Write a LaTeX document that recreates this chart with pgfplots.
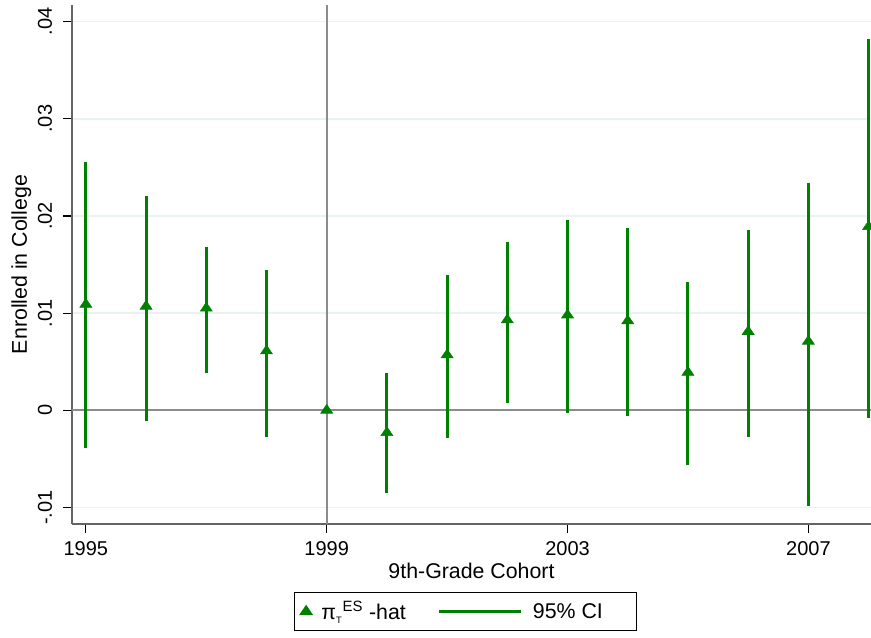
\documentclass[border=0pt]{standalone}
\usepackage{fontspec}
\setmainfont{Liberation Sans}
\usepackage{pgfplots}
\pgfplotsset{compat=1.18}
\definecolor{sgreen}{RGB}{0,128,0}
\definecolor{gridc}{RGB}{234,242,243}
\definecolor{refgray}{RGB}{140,140,140}
\definecolor{spine}{RGB}{100,100,100}
\pgfplotsset{longline/.style={legend image code/.code={\draw[##1] (0pt,0pt) -- (61pt,0pt);}}}
\begin{document}
\begin{tikzpicture}
\begin{axis}[
  scale only axis,
  width=599.25pt, height=389.25pt,
  xmin=1994.77, xmax=2008.04,
  ymin=-0.0117, ymax=0.0417,
  axis x line*=bottom, axis y line*=left,
  axis line style={spine, line width=1.3pt},
  xtick={1995,1999,2003,2007},
  xticklabels={1995,1999,2003,2007},
  ytick={-0.01,0,0.01,0.02,0.03,0.04},
  yticklabels={-.01,0,.01,.02,.03,.04},
  scaled y ticks=false, scaled x ticks=false,
  /pgf/number format/assume math mode=true,
  tick align=outside,
  major tick length=6.5pt,
  tick style={black, line width=0.9pt},
  ymajorgrids,
  grid style={gridc, line width=1.2pt},
  tick label style={font=\fontsize{15}{17}\selectfont},
  xticklabel style={yshift=-3pt},
  yticklabel style={xshift=-5pt, rotate=90, anchor=south},
  label style={font=\fontsize{16}{18}\selectfont},
  xlabel={9th-Grade Cohort},
  ylabel={Enrolled in College},
  xlabel style={yshift=1.3pt},
  ylabel style={yshift=-2pt},
  legend style={at={(axis description cs:0.4925,-0.131)}, anchor=north,
    legend columns=2, draw=black, line width=0.8pt,
    font=\fontsize{16}{18}\selectfont,
    /tikz/every even column/.append style={column sep=22pt},
    inner xsep=4pt, inner ysep=4.5pt},
  legend cell align=left,
]
% reference lines
\addplot[refgray, line width=1.4pt, forget plot] coordinates {(1999,-0.0117) (1999,0.0417)};
\addplot[refgray, line width=1.4pt, forget plot] coordinates {(1994.77,0) (2008.04,0)};
% confidence intervals
\addplot[sgreen, line width=2.3pt, unbounded coords=jump, forget plot] table[row sep=\\] {
x y\\
1995 -0.0039\\ 1995 0.0255\\ 1995 nan\\
1996 -0.0011\\ 1996 0.0221\\ 1996 nan\\
1997 0.0038\\ 1997 0.0168\\ 1997 nan\\
1998 -0.0027\\ 1998 0.0144\\ 1998 nan\\
2000 -0.0085\\ 2000 0.0038\\ 2000 nan\\
2001 -0.0028\\ 2001 0.0139\\ 2001 nan\\
2002 0.0008\\ 2002 0.0173\\ 2002 nan\\
2003 -0.0003\\ 2003 0.0196\\ 2003 nan\\
2004 -0.0006\\ 2004 0.0188\\ 2004 nan\\
2005 -0.0056\\ 2005 0.0132\\ 2005 nan\\
2006 -0.0027\\ 2006 0.0185\\ 2006 nan\\
2007 -0.0098\\ 2007 0.0234\\ 2007 nan\\
2008 -0.0008\\ 2008 0.0382\\
};
% point estimates
\addplot[only marks, mark=triangle*, sgreen, mark size=5.2pt, mark options={yscale=0.85}] table[row sep=\\] {
x y\\
1995 0.0109\\
1996 0.0107\\
1997 0.0105\\
1998 0.0061\\
1999 0.0\\
2000 -0.0023\\
2001 0.0057\\
2002 0.0093\\
2003 0.0098\\
2004 0.0092\\
2005 0.0039\\
2006 0.0081\\
2007 0.0071\\
2008 0.0189\\
};
\addlegendentry{\hspace*{5pt}π\textsubscript{\scriptsize T}\textsuperscript{ES} -hat}
\addlegendimage{sgreen, line width=2.3pt, longline}
\addlegendentry{\hspace*{6pt}95\% CI\rule{19pt}{0pt}}
\end{axis}
\pgfresetboundingbox
\path (-54pt,-84.75pt) rectangle (599.25pt,393pt);
\end{tikzpicture}
\end{document}
